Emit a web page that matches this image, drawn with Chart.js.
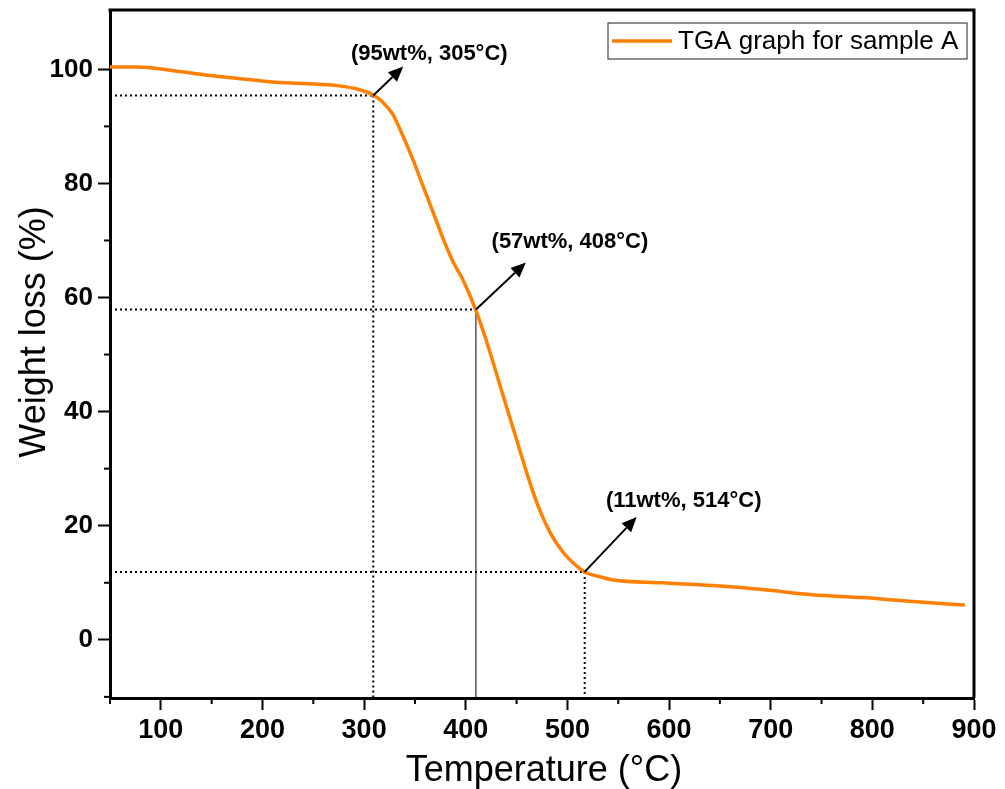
<!DOCTYPE html>
<html>
<head>
<meta charset="utf-8">
<script src="https://cdn.jsdelivr.net/npm/chart.js@4/dist/chart.umd.min.js"></script>
<style>
html,body{margin:0;padding:0;background:#fff;}
#wrap{width:1005px;height:789px;position:relative;}
</style>
</head>
<body>
<div id="wrap"><canvas id="c" width="1005" height="789"></canvas></div>
<script>
// ---- data ----
const temperature = [50, 77, 111, 144, 176, 209, 242, 275, 294, 309, 318, 328, 338, 348, 358, 368, 378, 388, 397, 409, 420, 430, 440, 450, 460, 470, 483, 496, 505, 517, 532, 545, 594, 643, 692, 741, 790, 840, 891];
const weight      = [100.4, 100.4, 99.8, 99.0, 98.4, 97.8, 97.5, 97.1, 96.5, 95.5, 94.3, 92.2, 88.4, 84.2, 79.5, 74.9, 70.2, 66.1, 63.2, 58.2, 52.6, 46.8, 40.9, 35.1, 29.3, 24.0, 18.8, 15.3, 13.6, 11.9, 11.05, 10.5, 10.0, 9.5, 8.8, 7.9, 7.4, 6.7, 6.1];
const seriesLabel = 'TGA graph for sample A';
const xTitle = 'Temperature (°C)';
const yTitle = 'Weight loss (%)';
const xTicks = [100, 200, 300, 400, 500, 600, 700, 800, 900];
const yTicks = [0, 20, 40, 60, 80, 100];
const xMinorTicks = [50, 150, 250, 350, 450, 550, 650, 750, 850];
const yMinorTicks = [-10, 10, 30, 50, 70, 90];
const markT = [309, 410, 517];
const markW = [95.4, 57.9, 11.9];
const markLabels = ['(95wt%, 305°C)', '(57wt%, 408°C)', '(11wt%, 514°C)'];

// ---- styling / positions (pixels) ----
const markStyle = [
  {vertical: 'dot', arrow: [30, -29], label: [56, -42]},
  {vertical: 'solid', arrow: [50, -47], label: [94, -68]},
  {vertical: 'dot', arrow: [52, -55], label: [99, -71]}
];
const ORANGE = '#ff8000';
const FONT = '"Liberation Sans", Arial, sans-serif';

const decor = {
  id: 'decor',
  beforeDatasetsDraw(chart) {
    const {ctx, chartArea: a, scales: {x, y}} = chart;
    ctx.save();
    markT.forEach((t, i) => {
      const px = x.getPixelForValue(t), py = y.getPixelForValue(markW[i]);
      ctx.strokeStyle = '#000';
      ctx.lineWidth = 2;
      ctx.setLineDash([2, 3]);
      ctx.beginPath(); ctx.moveTo(a.left, py); ctx.lineTo(px, py); ctx.stroke();
      if (markStyle[i].vertical === 'dot') {
        ctx.beginPath(); ctx.moveTo(px, py); ctx.lineTo(px, a.bottom); ctx.stroke();
      } else {
        ctx.setLineDash([]);
        ctx.lineWidth = 1;
        ctx.beginPath(); ctx.moveTo(px, py); ctx.lineTo(px, a.bottom); ctx.stroke();
      }
    });
    ctx.restore();
  },
  afterDatasetsDraw(chart) {
    const {ctx, chartArea: a, scales: {x, y}} = chart;
    ctx.save();
    markT.forEach((t, i) => {
      const px = x.getPixelForValue(t), py = y.getPixelForValue(markW[i]);
      const [dx, dy] = markStyle[i].arrow;
      const ex = px + dx, ey = py + dy;
      const ang = Math.atan2(dy, dx);
      const hl = 15, hw = 6.5;
      const bx = ex - hl * Math.cos(ang), by = ey - hl * Math.sin(ang);
      ctx.strokeStyle = '#000'; ctx.fillStyle = '#000';
      ctx.lineWidth = 2; ctx.setLineDash([]);
      ctx.beginPath(); ctx.moveTo(px, py); ctx.lineTo(bx, by); ctx.stroke();
      ctx.beginPath();
      ctx.moveTo(ex, ey);
      ctx.lineTo(bx + hw * Math.sin(ang), by - hw * Math.cos(ang));
      ctx.lineTo(bx - hw * Math.sin(ang), by + hw * Math.cos(ang));
      ctx.closePath(); ctx.fill();
      ctx.font = 'bold 22px ' + FONT;
      ctx.textAlign = 'center'; ctx.textBaseline = 'middle';
      ctx.fillText(markLabels[i], px + markStyle[i].label[0], py + markStyle[i].label[1]);
    });
    // frame top and right
    ctx.strokeStyle = '#000'; ctx.lineWidth = 3;
    ctx.beginPath();
    ctx.moveTo(a.left - 1.5, a.top); ctx.lineTo(a.right, a.top); ctx.lineTo(a.right, a.bottom);
    ctx.stroke();
    // minor ticks
    ctx.lineWidth = 2;
    xMinorTicks.forEach(v => {
      const px = x.getPixelForValue(v);
      ctx.beginPath(); ctx.moveTo(px, a.bottom); ctx.lineTo(px, a.bottom + 6); ctx.stroke();
    });
    yMinorTicks.forEach(v => {
      const py = y.getPixelForValue(v);
      ctx.beginPath(); ctx.moveTo(a.left, py); ctx.lineTo(a.left - 6, py); ctx.stroke();
    });
    // legend
    const lx = 608, ly = 23, lw = 359, lh = 36;
    ctx.lineWidth = 1.2; ctx.strokeStyle = '#444';
    ctx.strokeRect(lx, ly, lw, lh);
    ctx.strokeStyle = ORANGE; ctx.lineWidth = 3.5;
    ctx.beginPath(); ctx.moveTo(612, 41); ctx.lineTo(672, 41); ctx.stroke();
    ctx.fillStyle = '#000';
    ctx.font = '26px ' + FONT;
    ctx.textAlign = 'left'; ctx.textBaseline = 'middle';
    ctx.fillText(seriesLabel, 678, 42);
    // axis titles
    ctx.font = '36px ' + FONT;
    ctx.textAlign = 'center'; ctx.textBaseline = 'alphabetic';
    ctx.fillText(xTitle, 544, 781);
    ctx.translate(45, 332);
    ctx.rotate(-Math.PI / 2);
    ctx.fillText(yTitle, 0, 0);
    ctx.restore();
  }
};

new Chart(document.getElementById('c'), {
  type: 'line',
  data: {
    datasets: [{
      label: seriesLabel,
      data: temperature.map((t, i) => ({x: t, y: weight[i]})),
      borderColor: ORANGE,
      borderWidth: 3.5,
      pointRadius: 0,
      cubicInterpolationMode: 'monotone',
      fill: false
    }]
  },
  options: {
    responsive: false,
    animation: false,
    devicePixelRatio: 1,
    layout: {padding: {left: 0, top: 10, right: 31, bottom: 0}},
    plugins: {legend: {display: false}, tooltip: {enabled: false}},
    scales: {
      x: {
        type: 'linear', min: 50, max: 900,
        afterBuildTicks: s => { s.ticks = xTicks.map(v => ({value: v})); },
        afterFit: s => { s.height = 91; s.paddingLeft = 0; s.paddingRight = 0; },
        grid: {drawOnChartArea: false, tickLength: 12, tickColor: '#000', tickWidth: 2},
        border: {color: '#000', width: 3},
        ticks: {color: '#000', padding: 4, maxRotation: 0,
          font: {family: FONT, size: 27, weight: 'bold'}},
        title: {display: false}
      },
      y: {
        type: 'linear', min: -10.2, max: 110.4,
        afterBuildTicks: s => { s.ticks = yTicks.map(v => ({value: v})); },
        afterFit: s => { s.width = 110; s.paddingTop = 0; s.paddingBottom = 0; },
        grid: {drawOnChartArea: false, tickLength: 12, tickColor: '#000', tickWidth: 2},
        border: {color: '#000', width: 3},
        ticks: {color: '#000', padding: 5,
          font: {family: FONT, size: 26, weight: 'bold'}},
        title: {display: false}
      }
    }
  },
  plugins: [decor]
});
</script>
</body>
</html>
